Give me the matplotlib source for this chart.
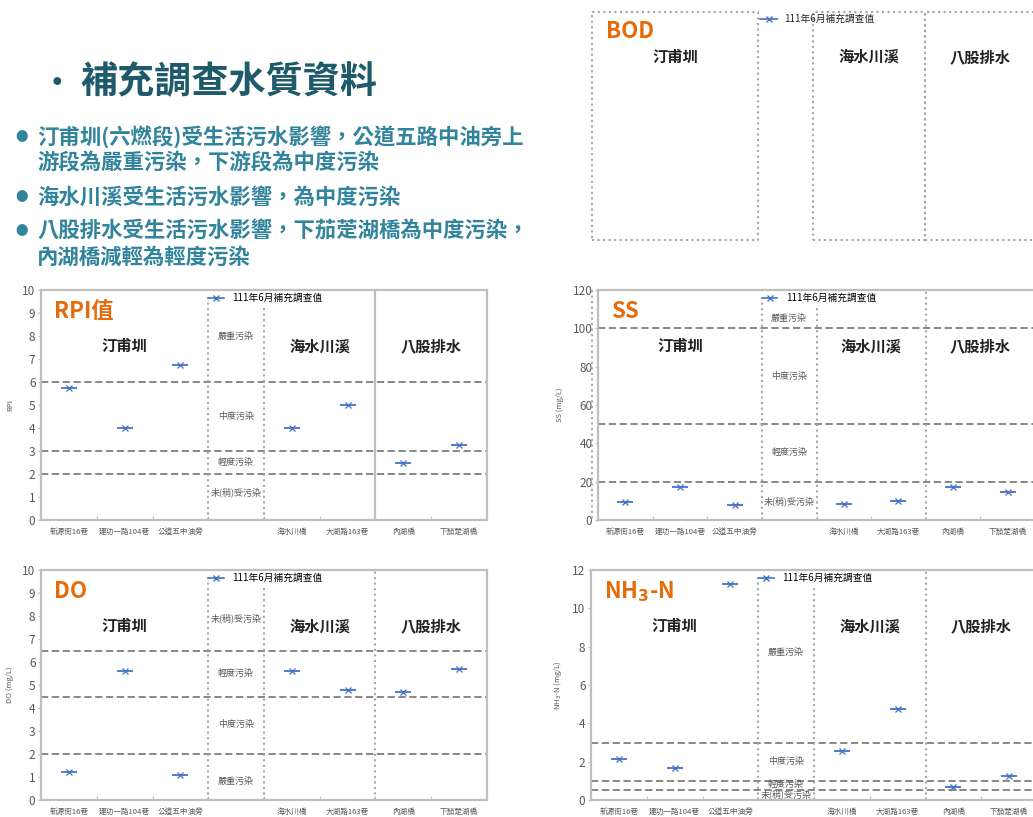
import matplotlib
matplotlib.use("Agg")
import matplotlib.pyplot as plt
from matplotlib.lines import Line2D
from matplotlib.patches import Rectangle

plt.rcParams['font.family'] = ['Noto Sans CJK TC', 'DejaVu Sans']

W, H = 1033, 817

# ---------------- data ----------------
sites = ['新源街16巷', '建功一路104巷', '公道五中油旁', '', '海水川橋', '大湖路163巷', '內湖橋', '下茄萣湖橋']
site_pos = [0, 1, 2, 4, 5, 6, 7]
groups = ['汀甫圳', '海水川溪', '八股排水']
legend_label = '111年6月補充調查值'

rpi_vals = [5.75, 4.0, 6.75, 4.0, 5.0, 2.5, 3.25]
do_vals = [1.2, 5.6, 1.1, 5.6, 4.8, 4.7, 5.7]
ss_vals = [9.5, 17.4, 7.8, 8.2, 10.1, 17.0, 14.4]
nh3_vals = [2.12, 1.65, 11.27, 2.56, 4.73, 0.70, 1.25]

rpi_limits = [2, 3, 6]
do_limits = [2, 4.5, 6.5]
ss_limits = [20, 50, 100]
nh3_limits = [0.5, 1.0, 3.0]

zones = ['未(稍)受污染', '輕度污染', '中度污染', '嚴重污染']

title_text = '補充調查水質資料'
bullets = ['汀甫圳(六燃段)受生活污水影響，公道五路中油旁上',
           '游段為嚴重污染，下游段為中度污染',
           '海水川溪受生活污水影響，為中度污染',
           '八股排水受生活污水影響，下茄萣湖橋為中度污染，',
           '內湖橋減輕為輕度污染']

BLUE = '#4472C4'
ORANGE = '#E46C0A'
GRAY_TXT = '#595959'
FRAME = '#BFBFBF'

fig = plt.figure(figsize=(W / 100, H / 100), dpi=100)


def fx(px):
    return px / W


def fy(py):
    return 1 - py / H


def make_panel(rect, vals, limits, ymax, ystep, ylabel, name, zone_y, solid_last):
    ax = fig.add_axes(rect)
    ax.set_xlim(-0.5, 7.5)
    ax.set_ylim(0, ymax)
    for s in ax.spines.values():
        s.set_color(FRAME)
        s.set_linewidth(1.6)
    ax.set_yticks([i * ystep for i in range(int(round(ymax / ystep)) + 1)])
    ax.tick_params(axis='y', labelsize=8.5, labelcolor=GRAY_TXT, color=FRAME, length=2, width=0.8, pad=2)
    ax.set_xticks(range(8))
    ax.set_xticklabels(sites)
    ax.tick_params(axis='x', which='major', length=0, labelsize=5.5, labelcolor=GRAY_TXT, pad=6)
    ax.set_xticks([i + 0.5 for i in range(7)], minor=True)
    ax.tick_params(axis='x', which='minor', length=3, direction='in', color=FRAME, width=0.8)
    ax.set_ylabel(ylabel, fontsize=5.5, color=GRAY_TXT, labelpad=6)
    # thresholds
    for lim in limits:
        ax.axhline(lim, color='#7F7F7F', lw=1.3, dashes=(4, 2))
    # dividers
    ax.axvline(2.5, color='#A6A6A6', lw=1.5, ls=':', ymax=0.96)
    ax.axvline(3.5, color='#A6A6A6', lw=1.5, ls=':', ymax=0.93)
    if solid_last:
        ax.axvline(5.5, color=FRAME, lw=1.6)
    else:
        ax.axvline(5.5, color='#A6A6A6', lw=1.5, ls=':')
    # data
    ax.plot(site_pos, vals, ls='none', marker='_', ms=11, mew=1.3, color=BLUE)
    ax.plot(site_pos, vals, ls='none', marker='x', ms=4.5, mew=0.9, color=BLUE)
    # group titles
    gy = 0.755
    for gx, g in zip([1, 4.5, 6.5], groups):
        ax.text(gx, gy, g, transform=ax.get_xaxis_transform(), ha='center', va='center',
                fontsize=11, weight='bold', color='#222222')
    # zone labels
    for z, zy in zip(zones, zone_y):
        ax.text(3.0, zy, z, ha='center', va='center', fontsize=6.5, color=GRAY_TXT)
    # name
    ax.text(0.03, 0.905, name, transform=ax.transAxes, ha='left', va='center',
            fontsize=16, weight='bold', color=ORANGE)
    # legend
    proxy = Line2D([], [], color=BLUE, marker='x', ms=4.5, lw=1.2)
    ax.legend([proxy], [legend_label], loc='center left', bbox_to_anchor=(0.375, 0.965),
              frameon=False, fontsize=7, handlelength=1.6, handletextpad=0.9,
              borderaxespad=0, borderpad=0)
    return ax


rect_rpi = [fx(41), fy(520), 446 / W, 230 / H]
rect_do = [fx(41), fy(800), 446 / W, 230 / H]
rect_ss = [fx(598), fy(520), 437 / W, 230 / H]
rect_nh3 = [fx(591), fy(800), 446 / W, 230 / H]

make_panel(rect_rpi, rpi_vals, rpi_limits, 10, 1, 'RPI', 'RPI值', [1.2, 2.5, 4.5, 8.0], True)
make_panel(rect_do, do_vals, do_limits, 10, 1, 'DO (mg/L)', 'DO', [7.9, 5.5, 3.3, 0.8], False)
make_panel(rect_ss, ss_vals, ss_limits, 120, 20, 'SS (mg/L)', 'SS', [9.5, 35, 75, 105], False)
make_panel(rect_nh3, nh3_vals, nh3_limits, 12, 2, 'NH$_3$-N (mg/L)', 'NH$_\\mathbf{3}$-N',
           [0.28, 0.8, 2.0, 7.7], False)

# ---------------- BOD (empty) panel ----------------
for (x0, y0, x1, y1) in [(592, 12, 758, 240), (813, 12, 925, 240), (925, 12, 1045, 240)]:
    fig.patches.append(Rectangle((fx(x0), fy(y1)), (x1 - x0) / W, (y1 - y0) / H,
                                 transform=fig.transFigure, fill=False,
                                 edgecolor='#A6A6A6', lw=1.5, ls=':'))
fig.lines.append(Line2D([fx(592), fx(592)], [fy(290), fy(520)], transform=fig.transFigure,
                        color='#A6A6A6', lw=1.5, ls=':'))
fig.text(fx(606), fy(32), 'BOD', ha='left', va='center', fontsize=16, weight='bold', color=ORANGE)
for gxp, g in zip([675, 869, 980], groups):
    fig.text(fx(gxp), fy(57), g, ha='center', va='center', fontsize=11, weight='bold', color='#222222')
fig.lines.append(Line2D([fx(760), fx(777)], [fy(19), fy(19)], transform=fig.transFigure,
                        color=BLUE, lw=1.2))
fig.lines.append(Line2D([fx(768.5)], [fy(19)], transform=fig.transFigure,
                        color=BLUE, marker='x', ms=4.5, ls='none'))
fig.text(fx(784), fy(19), legend_label, ha='left', va='center', fontsize=7, color='#262626')

# ---------------- text block ----------------
fig.text(fx(42), fy(84), '•', ha='left', va='center', fontsize=22, color='#1F5A6B', weight='bold')
fig.text(fx(80), fy(83), title_text, ha='left', va='center', fontsize=26.7, weight='bold', color='#1F5A6B')

line_y = [137, 163, 197, 231, 257]
dot_lines = [0, 2, 3]
for i, (t, yy) in enumerate(zip(bullets, line_y)):
    fig.text(fx(37), fy(yy), t, ha='left', va='center', fontsize=15.4, weight='bold', color='#31849B')
    if i in dot_lines:
        fig.text(fx(22), fy(yy), '●', ha='center', va='center', fontsize=9, color='#31849B')

fig.savefig('out.png', dpi=100)
